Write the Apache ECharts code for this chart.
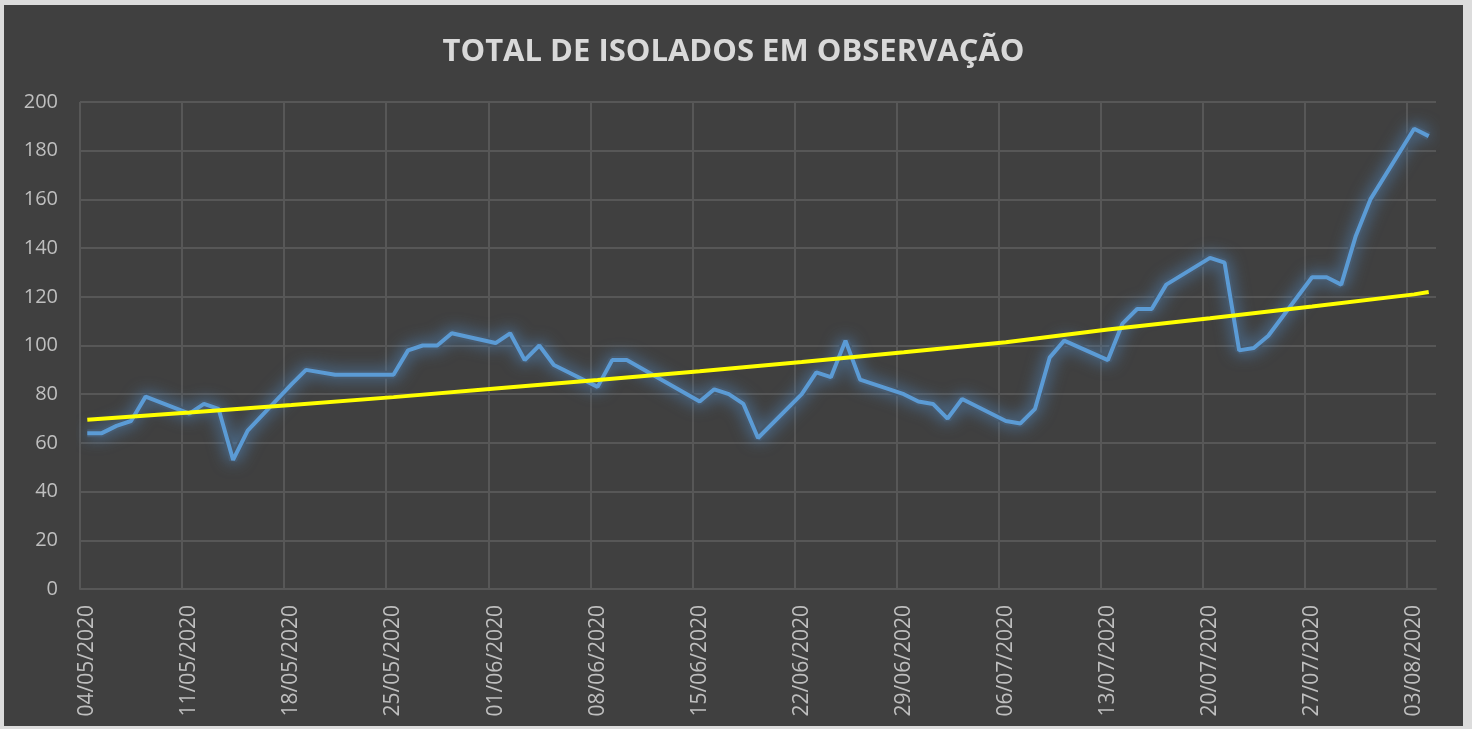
<!DOCTYPE html>
<html lang="pt">
<head>
  <meta charset="UTF-8">
  <title>Total de isolados em observação</title>
  <script src="https://cdn.jsdelivr.net/npm/echarts@6.0.0/dist/echarts.min.js"></script>
  <style>
    html, body {
      margin: 0;
      padding: 0;
      width: 100%;
      height: 100%;
      background: #dcdcdc;
      overflow: hidden;
    }
    #main {
      position: absolute;
      left: 4px;
      top: 5px;
      width: 1459px;
      height: 721px;
      background: #404040;
    }
  </style>
</head>
<body>
  <div id="main"></div>

  <script>
    // dias do eixo (eixo de datas do Excel: todos os dias do período)
    const dias = [
      "04/05/2020", "05/05/2020", "06/05/2020", "07/05/2020", "08/05/2020", "09/05/2020", "10/05/2020",
      "11/05/2020", "12/05/2020", "13/05/2020", "14/05/2020", "15/05/2020", "16/05/2020", "17/05/2020",
      "18/05/2020", "19/05/2020", "20/05/2020", "21/05/2020", "22/05/2020", "23/05/2020", "24/05/2020",
      "25/05/2020", "26/05/2020", "27/05/2020", "28/05/2020", "29/05/2020", "30/05/2020", "31/05/2020",
      "01/06/2020", "02/06/2020", "03/06/2020", "04/06/2020", "05/06/2020", "06/06/2020", "07/06/2020",
      "08/06/2020", "09/06/2020", "10/06/2020", "11/06/2020", "12/06/2020", "13/06/2020", "14/06/2020",
      "15/06/2020", "16/06/2020", "17/06/2020", "18/06/2020", "19/06/2020", "20/06/2020", "21/06/2020",
      "22/06/2020", "23/06/2020", "24/06/2020", "25/06/2020", "26/06/2020", "27/06/2020", "28/06/2020",
      "29/06/2020", "30/06/2020", "01/07/2020", "02/07/2020", "03/07/2020", "04/07/2020", "05/07/2020",
      "06/07/2020", "07/07/2020", "08/07/2020", "09/07/2020", "10/07/2020", "11/07/2020", "12/07/2020",
      "13/07/2020", "14/07/2020", "15/07/2020", "16/07/2020", "17/07/2020", "18/07/2020", "19/07/2020",
      "20/07/2020", "21/07/2020", "22/07/2020", "23/07/2020", "24/07/2020", "25/07/2020", "26/07/2020",
      "27/07/2020", "28/07/2020", "29/07/2020", "30/07/2020", "31/07/2020", "01/08/2020", "02/08/2020",
      "03/08/2020", "04/08/2020"
    ];

    // total de isolados (sem registro nos fins de semana)
    const isolados = [
      64, 64, 67, 69, 79, null, null,
      72, 76, 74, 53, 65, null, null,
      84, 90, null, 88, null, null, null,
      88, 98, 100, 100, 105, null, null,
      101, 105, 94, 100, 92, null, null,
      83, 94, 94, null, null, null, null,
      77, 82, 80, 76, 62, null, null,
      80, 89, 87, 102, 86, null, null,
      80, 77, 76, 70, 78, null, null,
      69, 68, 74, 95, 102, null, null,
      94, 109, 115, 115, 125, null, null,
      136, 134, 98, 99, 104, null, null,
      128, 128, 125, 145, 160, null, null,
      189, 186
    ];

    // linha de tendência (exponencial no Excel), lida semana a semana
    const tendencia = [
      69.5, null, null, null, null, null, null,
      72.5, null, null, null, null, null, null,
      75.6, null, null, null, null, null, null,
      78.8, null, null, null, null, null, null,
      82.3, null, null, null, null, null, null,
      85.8, null, null, null, null, null, null,
      89.4, null, null, null, null, null, null,
      93.2, null, null, null, null, null, null,
      97.2, null, null, null, null, null, null,
      101.3, null, null, null, null, null, null,
      106.6, null, null, null, null, null, null,
      111.2, null, null, null, null, null, null,
      116.0, null, null, null, null, null, null,
      121.0, 122.0
    ];

    const corTexto = '#bfbfbf';
    const corGrade = '#575757';

    const chart = echarts.init(document.getElementById('main'));

    const option = {
      animation: false,
      backgroundColor: '#404040',
      title: {
        text: 'TOTAL DE ISOLADOS EM OBSERVAÇÃO',
        left: 'center',
        top: 27,
        textStyle: {
          color: '#d9d9d9',
          fontFamily: 'Open Sans',
          fontWeight: 'bold',
          fontSize: 31
        }
      },
      grid: {
        left: 76,
        right: 27,
        top: 97,
        bottom: 137
      },
      xAxis: {
        type: 'category',
        data: dias,
        boundaryGap: true,
        axisLine: { show: true, lineStyle: { color: corGrade, width: 2 } },
        axisTick: { show: false, interval: 6 },
        axisLabel: {
          interval: 6,
          rotate: 90,
          margin: 16,
          color: corTexto,
          fontFamily: 'Open Sans',
          fontSize: 21
        },
        splitLine: {
          show: true,
          interval: 6,
          showMaxLine: false,
          lineStyle: { color: corGrade, width: 2 }
        }
      },
      yAxis: {
        type: 'value',
        min: 0,
        max: 200,
        interval: 20,
        axisLine: { show: false },
        axisTick: { show: false },
        axisLabel: {
          margin: 22,
          color: corTexto,
          fontFamily: 'Open Sans',
          fontSize: 20
        },
        splitLine: { lineStyle: { color: corGrade, width: 2 } }
      },
      series: [
        {
          // halo azul (efeito "brilho" do Excel)
          name: 'brilho',
          type: 'line',
          data: isolados,
          connectNulls: true,
          showSymbol: false,
          silent: true,
          lineStyle: {
            color: '#475a6e',
            width: 8,
            shadowBlur: 16,
            shadowColor: 'rgba(80, 130, 180, 0.9)'
          }
        },
        {
          name: 'Isolados',
          type: 'line',
          data: isolados,
          connectNulls: true,
          showSymbol: false,
          lineStyle: {
            color: '#5b9bd5',
            width: 4
          },
          itemStyle: { color: '#5b9bd5' }
        },
        {
          name: 'Tendência',
          type: 'line',
          data: tendencia,
          connectNulls: true,
          showSymbol: false,
          lineStyle: { color: '#ffff00', width: 4 },
          itemStyle: { color: '#ffff00' }
        }
      ]
    };

    chart.setOption(option);
  </script>
</body>
</html>
